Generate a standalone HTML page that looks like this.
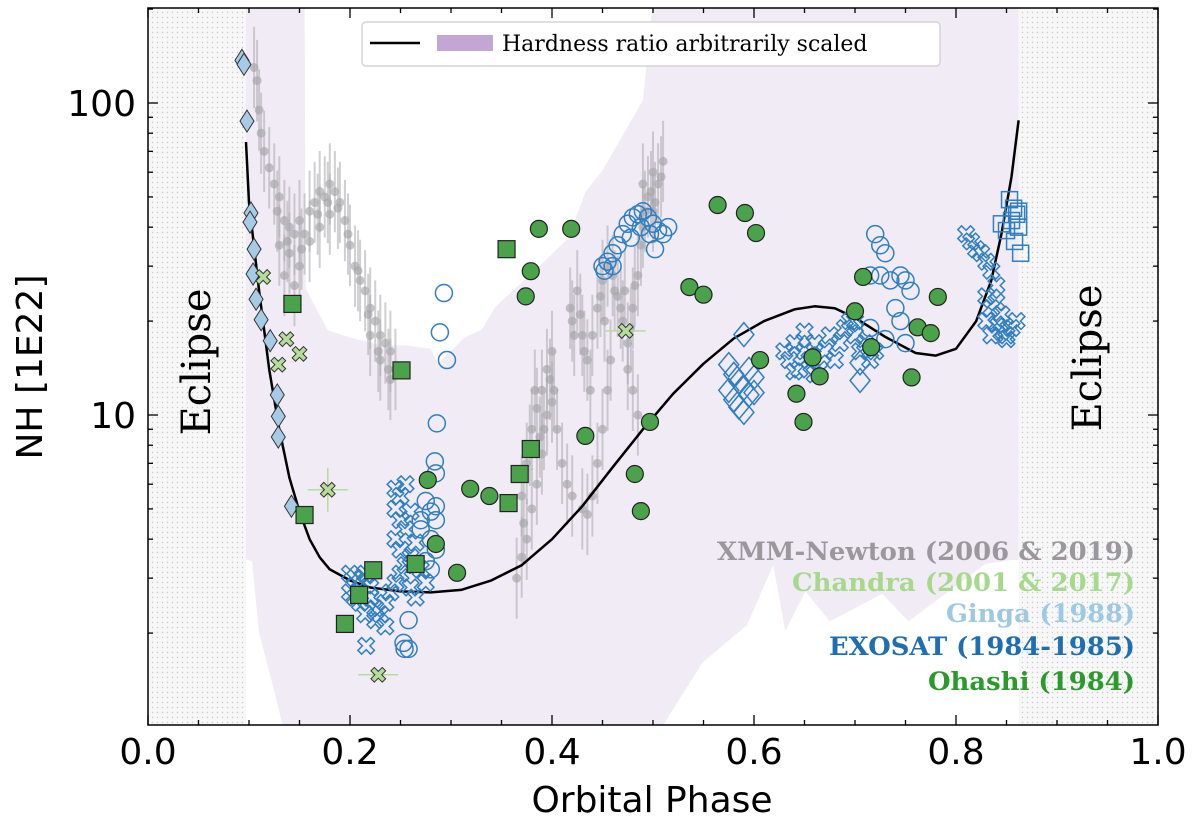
<!DOCTYPE html>
<html><head><meta charset="utf-8"><style>
html,body{margin:0;padding:0;background:#fff;}
svg{display:block;}
</style></head><body>
<svg id="chart" width="1200" height="830" xmlns="http://www.w3.org/2000/svg">
<defs>
<pattern id="dots" width="5" height="5" patternUnits="userSpaceOnUse"><rect width="5" height="5" fill="#f7f7f7"/><circle cx="2.5" cy="2.5" r="0.7" fill="#c8c8c8"/></pattern>
<clipPath id="plotclip"><rect x="148" y="8" width="1010" height="717"/></clipPath>
</defs>
<g id="plot" clip-path="url(#plotclip)"></g>
<g id="axes"></g>
</svg>
<script>
// ---- data ----
const hrUpperPhase=[0.097,0.155,0.156,0.178,0.198,0.231,0.257,0.28,0.287,0.314,0.33,0.344,0.364,0.393,0.416,0.433,0.45,0.49,0.5,0.862];
const hrUpperNH=[300,300,25.5,18.7,17.8,16.7,16.7,16.3,14.6,17.8,18.7,22.2,25.5,31.2,36.9,51.8,60.9,102,300,300];
const hrLowerPhase=[0.097,0.103,0.11,0.125,0.137,0.5,0.549,0.593,0.619,0.631,0.651,0.675,0.727,0.753,0.829,0.855,0.862];
const hrLowerNH=[3.45,3.4,2.0,1.3,0.9,0.9,1.61,2.12,3.3,2.03,2.72,2.18,2.67,2.18,3.33,3.43,3.43];
const curvePhase=[0.097,0.1,0.11,0.12,0.13,0.14,0.15,0.16,0.17,0.18,0.2,0.22,0.25,0.28,0.31,0.34,0.37,0.4,0.43,0.46,0.49,0.52,0.55,0.58,0.61,0.64,0.66,0.68,0.7,0.73,0.76,0.78,0.8,0.82,0.835,0.845,0.855,0.862];
const curveNH=[75,48,25,14,9,6.3,4.9,4.0,3.5,3.2,2.95,2.8,2.72,2.7,2.75,2.95,3.3,4.0,5.1,6.8,9.0,11.7,14.6,17.6,20.0,21.8,22.3,22.0,20.5,17.8,15.8,15.5,16.3,20,27,38,58,88];
const xmmPhase=[0.105,0.108,0.11,0.112,0.115,0.12,0.125,0.13,0.135,0.14,0.145,0.15,0.155,0.16,0.165,0.17,0.175,0.18,0.185,0.19,0.195,0.2,0.205,0.21,0.215,0.22,0.225,0.23,0.235,0.24,0.245,0.13,0.14,0.15,0.16,0.17,0.18,0.22,0.23,0.24,0.135,0.145,0.128,0.138,0.152,0.168,0.178,0.188,0.198,0.208,0.218,0.228,0.238,
0.365,0.37,0.375,0.38,0.385,0.39,0.37,0.375,0.38,0.385,0.39,0.395,0.4,0.405,0.41,0.415,0.42,0.43,0.435,0.44,0.445,0.45,0.455,0.44,0.445,0.45,0.455,0.46,0.465,0.47,0.475,0.48,0.485,0.49,0.495,0.5,0.505,0.51,0.49,0.5,0.42,0.425,0.43,0.435,0.4,0.395,0.475,0.48,0.485,
0.372,0.378,0.383,0.388,0.392,0.398,0.402,0.418,0.422,0.428,0.432,0.438,0.448,0.452,0.458,0.462,0.468,0.472,0.478,0.482,0.488,0.492,0.498,0.502,0.508];
const xmmNH=[130,118,95,80,70,62,55,50,42,40,38,42,38,45,48,52,50,55,52,48,42,35,30,27,25,22,20,18,17,16,14,35,33,30,36,40,44,18,15,13,28,26,45,36,34,44,48,46,38,29,21,16,14,
3.0,3.5,4.0,5,6,7.5,5.5,7,9,10.5,12,14,11,9,7,6,5.5,5,4.8,5.5,7,9,12,18,22,27,30,28,24,20,17,22,28,40,50,60,55,65,55,45,20,25,18,15,16,10,14,12,10,
4.5,8,12,8.5,9,13,12,22,18,21,16,12,24,20,15,25,22,25,19,26,35,45,52,48,58];
const chandraPhase=[0.114,0.137,0.150,0.129,0.178,0.228,0.473];
const chandraNH=[27.7,17.5,15.7,14.5,5.76,1.47,18.6];
const gingaPhase=[0.093,0.095,0.098,0.102,0.101,0.105,0.104,0.107,0.112,0.121,0.128,0.129,0.129,0.142];
const gingaNH=[137,133,87.5,44.4,41.5,34.0,28.3,23.5,20.2,17.3,11.6,9.9,8.5,5.1];
const exoCrossPhase=[0.20,0.205,0.21,0.215,0.22,0.2,0.205,0.21,0.22,0.225,0.23,0.235,0.24,0.215,0.225,0.216,0.245,0.25,
0.245,0.25,0.255,0.245,0.25,0.255,0.26,0.245,0.25,0.26,0.265,0.255,0.27,0.26,0.265,0.275,0.235,
0.63,0.635,0.64,0.645,0.65,0.655,0.66,0.665,0.67,0.675,0.68,0.685,0.69,0.695,0.7,0.705,0.71,0.715,0.72,0.66,0.64,0.65,0.7,
0.81,0.815,0.82,0.825,0.83,0.835,0.84,0.83,0.835,0.84,0.83,0.84,0.845,0.85,0.855,0.86,0.845,0.835,0.85];
const exoCrossNH=[3.1,3.0,2.9,3.1,2.8,2.7,2.6,2.5,2.6,2.4,2.3,2.5,2.7,2.3,2.2,1.82,2.9,3.1,
5.8,5.5,6.0,5.0,4.6,4.3,4.9,4.0,3.7,3.5,3.9,3.3,3.2,2.8,2.6,2.9,2.1,
16,15,17,14,16,15,17,14,16,18,15,17,19,20,18,16,17,15,16,13.5,13.8,18.5,20,
38,36,34,33,31,29,26,24,22,23,20,19.5,18.5,18,19,20,21,18,17.5];
const exoCirclePhase=[0.293,0.289,0.296,0.286,0.284,0.285,0.275,0.28,0.285,0.27,0.28,0.285,0.275,0.28,0.285,0.27,0.258,0.253,0.254,0.258,
0.45,0.455,0.46,0.465,0.47,0.475,0.48,0.485,0.49,0.495,0.5,0.505,0.51,0.515,0.478,0.488,0.497,0.502,0.452,0.46,
0.72,0.725,0.73,0.715,0.725,0.735,0.745,0.75,0.755,0.74,0.745,0.75,0.73,0.715];
const exoCircleNH=[24.6,18.4,15.0,9.4,7.1,6.5,5.3,4.9,4.6,4.3,4.0,3.7,3.4,3.2,5.1,4.6,2.2,1.86,1.78,1.78,
30,31,33,35,38,41,43,44,45,43,41,39,38,40,37,40,38,34,29,30,
38,35,33,28,28,27,28,27,25,22,20,17,17.5,19];
const exoDiamondPhase=[0.59,0.575,0.58,0.585,0.59,0.595,0.58,0.585,0.59,0.6,0.6,0.575,0.595,0.705,0.705];
const exoDiamondNH=[18.1,14.5,13.5,12.8,12.2,11.6,11.2,10.6,10.2,13.2,11.8,12.0,14.0,14.7,12.9];
const exoSquarePhase=[0.853,0.857,0.86,0.855,0.862,0.85,0.858,0.864,0.845,0.862];
const exoSquareNH=[49,46,44,42,40,39,36,33,41,45];
const ohashiCirclePhase=[0.387,0.419,0.379,0.374,0.433,0.277,0.319,0.338,0.285,0.306,0.564,0.591,0.602,0.536,0.550,0.708,0.782,0.700,0.762,0.775,0.606,0.716,0.658,0.665,0.756,0.642,0.649,0.497,0.482,0.488];
const ohashiCircleNH=[39.5,39.5,28.9,24.0,8.57,6.19,5.80,5.50,3.86,3.12,47.1,44.4,38.3,25.7,24.3,27.7,23.9,21.5,19.1,18.3,15.0,16.5,15.3,13.3,13.2,11.7,9.5,9.5,6.47,4.92];
const ohashiSquarePhase=[0.355,0.143,0.251,0.379,0.368,0.357,0.155,0.223,0.265,0.209,0.195];
const ohashiSquareNH=[34.0,22.7,13.9,7.78,6.47,5.22,4.78,3.18,3.33,2.65,2.14];
const xTicks=[0,0.2,0.4,0.6,0.8,1.0];
const xTickLabels=["0.0","0.2","0.4","0.6","0.8","1.0"];
const yTicks=[10,100];
const yTickLabels=["10","100"];

// ---- scales ----
const L=148,R=1158,T=8,B=725;
const X=p=>L+p*(R-L);
const Y=v=>415-(Math.log10(v)-1)*312;
const NS="http://www.w3.org/2000/svg";
const plot=document.getElementById('plot');
const axes=document.getElementById('axes');
function mk(tag,attrs,parent){const e=document.createElementNS(NS,tag);for(const k in attrs)e.setAttribute(k,attrs[k]);(parent||plot).appendChild(e);return e;}

let e1=mk('rect',{x:L,y:T,width:X(0.097)-L,height:B-T,fill:'url(#dots)'});


let e2=mk('rect',{x:X(0.862),y:T,width:R-X(0.862),height:B-T,fill:'url(#dots)'});



let pts=[];
for(let i=0;i<hrUpperPhase.length;i++)pts.push(X(hrUpperPhase[i]).toFixed(1)+','+Math.max(0,Y(hrUpperNH[i])).toFixed(1));
for(let i=hrLowerPhase.length-1;i>=0;i--)pts.push(X(hrLowerPhase[i]).toFixed(1)+','+Math.min(760,Y(hrLowerNH[i])).toFixed(1));
let hb=mk('polygon',{points:pts.join(' '),fill:'#f1ebf5'});



for(let i=0;i<xmmPhase.length;i++){
  const x=X(xmmPhase[i]),y=Y(xmmNH[i]);
  const eb=mk('line',{x1:x,x2:x,y1:Y(xmmNH[i]*1.35),y2:Y(xmmNH[i]/1.35),stroke:'#b0b0b4','stroke-width':2,opacity:0.6});
  
  
  const c=mk('circle',{cx:x,cy:y,r:4.5,fill:'#a4a4a8',opacity:0.65});
  
  
}

let d='';
for(let i=0;i<curvePhase.length;i++)d+=(i?'L':'M')+X(curvePhase[i]).toFixed(1)+','+Y(curveNH[i]).toFixed(1);
let cv=mk('path',{d:d,fill:'none',stroke:'#000','stroke-width':2.5,'stroke-linejoin':'round'});



const xPoly="0.3,1 0.3,0.3 1,0.3 1,-0.3 0.3,-0.3 0.3,-1 -0.3,-1 -0.3,-0.3 -1,-0.3 -1,0.3 -0.3,0.3 -0.3,1";
function xMarker(x,y,s,fill,stroke,sw){
  return mk('polygon',{points:xPoly,transform:`translate(${x},${y}) rotate(45) scale(${s})`,fill:fill,stroke:stroke,'stroke-width':sw/s});
}

for(let i=0;i<exoDiamondPhase.length;i++){
  const x=X(exoDiamondPhase[i]),y=Y(exoDiamondNH[i]);
  const m=mk('polygon',{points:`${x},${y-12} ${x+10},${y} ${x},${y+12} ${x-10},${y}`,fill:'none',stroke:'#2f7fc1','stroke-width':1.5});
  
  
}
for(let i=0;i<exoSquarePhase.length;i++){
  const x=X(exoSquarePhase[i]),y=Y(exoSquareNH[i]);
  const m=mk('rect',{x:x-8,y:y-8,width:16,height:16,fill:'none',stroke:'#2f7fc1','stroke-width':1.5});
  
  
}
for(let i=0;i<exoCrossPhase.length;i++){
  const m=xMarker(X(exoCrossPhase[i]),Y(exoCrossNH[i]),9,'none','#2f7fc1',1.5);
  
  
}
for(let i=0;i<exoCirclePhase.length;i++){
  const m=mk('circle',{cx:X(exoCirclePhase[i]),cy:Y(exoCircleNH[i]),r:8.5,fill:'none',stroke:'#2f7fc1','stroke-width':1.5});
  
  
}

for(let i=0;i<gingaPhase.length;i++){
  const x=X(gingaPhase[i]),y=Y(gingaNH[i]);
  const m=mk('polygon',{points:`${x},${y-11} ${x+7},${y} ${x},${y+11} ${x-7},${y}`,fill:'#a6cbe6',stroke:'#333','stroke-width':1});
  
  
}

for(let i=0;i<ohashiSquarePhase.length;i++){
  const x=X(ohashiSquarePhase[i]),y=Y(ohashiSquareNH[i]);
  const m=mk('rect',{x:x-8.5,y:y-8.5,width:17,height:17,fill:'#4aa24a',stroke:'#222','stroke-width':1.2});
  
  
}
for(let i=0;i<ohashiCirclePhase.length;i++){
  const m=mk('circle',{cx:X(ohashiCirclePhase[i]),cy:Y(ohashiCircleNH[i]),r:8.5,fill:'#4aa24a',stroke:'#222','stroke-width':1.2});
  
  
}

for(let i=0;i<chandraPhase.length;i++){
  const x=X(chandraPhase[i]),y=Y(chandraNH[i]);
  if(chandraNH[i]<7||chandraPhase[i]>0.4){
    const eh=mk('line',{x1:x-20,x2:x+20,y1:y,y2:y,stroke:'#b5dc9a','stroke-width':1.5});
    
    
  }
  if(chandraNH[i]>5&&chandraNH[i]<7){
    const ev=mk('line',{x1:x,x2:x,y1:y-22,y2:y+22,stroke:'#b5dc9a','stroke-width':1.5});
    
    
  }
  const m=xMarker(x,y,8,'#b5dc9a','#333',1);
  
  
}

let t1=mk('text',{x:0,y:0,transform:`translate(210,362) rotate(-90)`,'text-anchor':'middle','font-family':'"DejaVu Serif","Liberation Serif",serif','font-size':40,fill:'#000'});
t1.textContent='Eclipse';


let t2=mk('text',{x:0,y:0,transform:`translate(1101,358) rotate(-90)`,'text-anchor':'middle','font-family':'"DejaVu Serif","Liberation Serif",serif','font-size':40,fill:'#000'});
t2.textContent='Eclipse';



const labTexts=['XMM-Newton (2006 & 2019)','Chandra (2001 & 2017)','Ginga (1988)','EXOSAT (1984-1985)','Ohashi (1984)'];
const labColors=['#9a989c','#a6d98c','#9ecae1','#1f6fb0','#2a9a2a'];
const labNames=['xmm-label','chandra-label','ginga-label','exosat-label','ohashi-label'];
const labY=[560,591,622,655,690];
const labW=[418,343,189,306,207];
for(let i=0;i<5;i++){
  const t=mk('text',{x:1135,y:labY[i],'text-anchor':'end','font-family':'"DejaVu Serif","Liberation Serif",serif','font-weight':'bold','font-size':25,fill:labColors[i],textLength:labW[i],lengthAdjust:'spacingAndGlyphs'});
  t.textContent=labTexts[i];
  
  
}

let fr=mk('rect',{x:L,y:T,width:R-L,height:B-T,fill:'none',stroke:'#000','stroke-width':1.5},axes);


for(let k=0;k<=20;k++){
  const p=k*0.05,x=X(p),len=(k%4===0)?10:5;
  const a=mk('line',{x1:x,x2:x,y1:B,y2:B-len,stroke:'#000','stroke-width':1.3},axes);
  
  
  const b=mk('line',{x1:x,x2:x,y1:T,y2:T+len,stroke:'#000','stroke-width':1.3},axes);
  
  
}
for(let i=0;i<xTicks.length;i++){
  const t=mk('text',{x:X(xTicks[i]),y:764,'text-anchor':'middle','font-family':'"DejaVu Sans","Liberation Sans",sans-serif','font-size':36,fill:'#000'},axes);
  t.textContent=xTickLabels[i];
  
  
}
for(const dec of [1,10,100]){
  for(let m=1;m<=9;m++){
    const v=dec*m,y=Y(v);
    if(y<T||y>B)continue;
    const len=(m===1)?10:5;
    const a=mk('line',{x1:L,x2:L+len,y1:y,y2:y,stroke:'#000','stroke-width':1.3},axes);
    
    
    const b=mk('line',{x1:R,x2:R-len,y1:y,y2:y,stroke:'#000','stroke-width':1.3},axes);
    
    
  }
}
for(let i=0;i<yTicks.length;i++){
  const t=mk('text',{x:136,y:Y(yTicks[i])+13,'text-anchor':'end','font-family':'"DejaVu Sans","Liberation Sans",sans-serif','font-size':36,fill:'#000'},axes);
  t.textContent=yTickLabels[i];
  
  
}
let xl=mk('text',{x:652,y:812,'text-anchor':'middle','font-family':'"DejaVu Sans","Liberation Sans",sans-serif','font-size':36,fill:'#000'},axes);
xl.textContent='Orbital Phase';


let yl=mk('text',{x:0,y:0,transform:'translate(42,367) rotate(-90)','text-anchor':'middle','font-family':'"DejaVu Sans","Liberation Sans",sans-serif','font-size':36,fill:'#000'},axes);
yl.textContent='NH [1E22]';



const lg=mk('g',{},axes);


const lb=mk('rect',{x:362,y:22,width:578,height:44,rx:4,fill:'#fff',stroke:'#ccc','stroke-width':1.2},lg);


const ll=mk('line',{x1:370,x2:420,y1:43,y2:43,stroke:'#000','stroke-width':2.5},lg);


const lp=mk('rect',{x:437,y:35,width:56,height:16,fill:'#c3a6d4'},lg);


const lt=mk('text',{x:502,y:51,'font-family':'"DejaVu Serif","Liberation Serif",serif','font-size':22,fill:'#000'},lg);
lt.textContent='Hardness ratio arbitrarily scaled';


</script>
</body></html>
